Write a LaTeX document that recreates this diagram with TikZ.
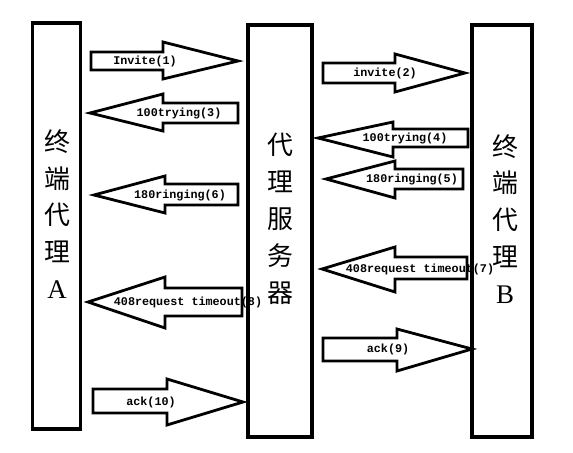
\documentclass[tikz,border=0pt]{standalone}
\usepackage{fontspec}
\newfontfamily\cjkfont{Noto Sans CJK SC}
\newfontfamily\latinfont{Liberation Serif}
\newfontfamily\msgfont{Liberation Mono}
\begin{document}
\begin{tikzpicture}[x=1bp,y=-1bp,
    agentbox/.style={draw,line width=3.4bp,inner sep=0pt},
    blockarrow/.style={draw,fill=white,line width=2.8bp,line join=miter},
    msg/.style={font=\msgfont\bfseries\fontsize{11.8}{12}\selectfont,inner sep=0pt},
    agentname/.style={font=\cjkfont\fontsize{26}{37}\selectfont,align=center,inner sep=0pt}]
    \useasboundingbox (0,0) rectangle (573,453);
    % the three parties
    \node[agentbox,minimum width=48bp,minimum height=406bp] (termA) at (56.5,226) {};
    \node[agentbox,minimum width=64bp,minimum height=412bp] (proxy) at (280,231) {};
    \node[agentbox,minimum width=60bp,minimum height=412bp] (termB) at (502,231) {};
    \node[agentname] (nameA) at (57,214) {终\\端\\代\\理\\{\latinfont\fontsize{27}{37}\selectfont A}};
    \node[agentname] (nameP) at (280,219) {代\\理\\服\\务\\器};
    \node[agentname] (nameB) at (505,219) {终\\端\\代\\理\\{\latinfont\fontsize{27}{37}\selectfont B}};
    % A <-> proxy
    \draw[blockarrow] (91,52) -- (163,52) -- (163,42) -- (238,61) -- (163,79) -- (163,70) -- (91,70) -- cycle;
    \draw[blockarrow] (238,103) -- (163,103) -- (163,94) -- (90,113) -- (163,131) -- (163,123) -- (238,123) -- cycle;
    \draw[blockarrow] (238,184) -- (165,184) -- (165,176) -- (94,195) -- (165,213) -- (165,205) -- (238,205) -- cycle;
    \draw[blockarrow] (242,288) -- (165,288) -- (165,277) -- (88,302) -- (165,328) -- (165,316) -- (242,316) -- cycle;
    \draw[blockarrow] (93,389) -- (167,389) -- (167,379) -- (243,402) -- (167,425) -- (167,413) -- (93,413) -- cycle;
    % proxy <-> B
    \draw[blockarrow] (323,63) -- (395,63) -- (395,54) -- (465,73) -- (395,92) -- (395,83) -- (323,83) -- cycle;
    \draw[blockarrow] (468,129) -- (393,129) -- (393,122) -- (318,138) -- (393,157) -- (393,147) -- (468,147) -- cycle;
    \draw[blockarrow] (463,169) -- (395,169) -- (395,161) -- (326,179) -- (395,198) -- (395,189) -- (463,189) -- cycle;
    \draw[blockarrow] (467,257) -- (395,257) -- (395,247) -- (322,269) -- (395,292) -- (395,279) -- (467,279) -- cycle;
    \draw[blockarrow] (323,338) -- (397,338) -- (397,329) -- (472,349) -- (397,371) -- (397,361) -- (323,361) -- cycle;
    % messages
    \node[msg] (m1) at (145,61) {Invite(1)};
    \node[msg] (m2) at (385,73) {invite(2)};
    \node[msg] (m3) at (179,113) {100trying(3)};
    \node[msg] (m4) at (405,138) {100trying(4)};
    \node[msg] (m5) at (412,179) {180ringing(5)};
    \node[msg] (m6) at (180,195) {180ringing(6)};
    \node[msg] (m7) at (420,269) {408request timeout(7)};
    \node[msg] (m8) at (188,302) {408request timeout(8)};
    \node[msg] (m9) at (388,349) {ack(9)};
    \node[msg] (m10) at (151,402) {ack(10)};
\end{tikzpicture}
\end{document}
